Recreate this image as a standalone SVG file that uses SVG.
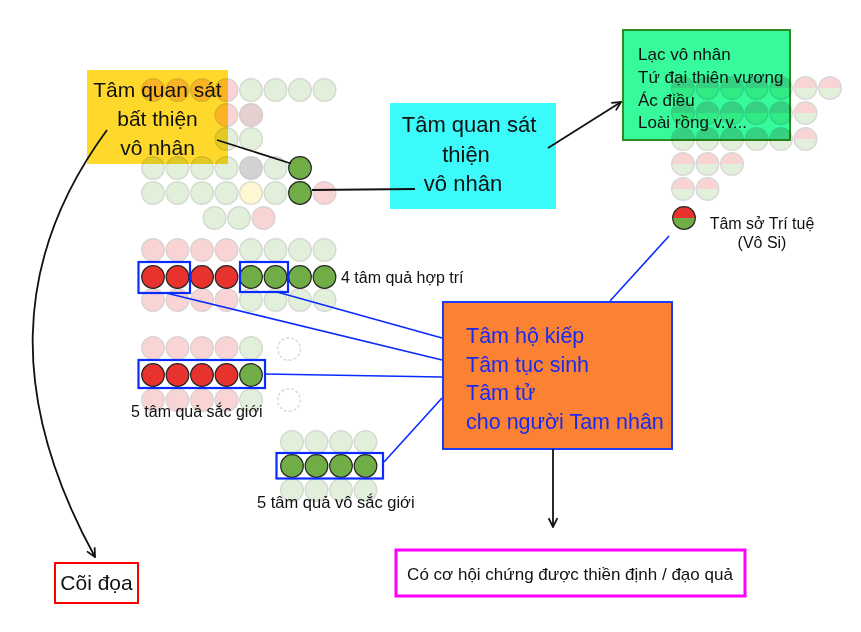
<svg xmlns="http://www.w3.org/2000/svg" xmlns:xlink="http://www.w3.org/1999/xlink" width="861" height="632" viewBox="0 0 861 632">
<style>
  text { font-family: "Liberation Sans", Arial, sans-serif; fill: #111; }
  .fp { fill: #F9D4D4; stroke: #DCD2D2; stroke-width: 1.4; }
  .fg { fill: #E2EFDA; stroke: #D4DAD0; stroke-width: 1.4; }
  .fgr { fill: #D2D2D2; stroke: #CCCCCC; stroke-width: 1.4; }
  .fy { fill: #FFF6D2; stroke: #DCDCCC; stroke-width: 1.4; }
  .fpg { fill: #E5D0D0; stroke: #D6CACA; stroke-width: 1.4; }
  .dash { fill: none; stroke: #D9D9D9; stroke-width: 1.4; stroke-dasharray: 3 2; }
  .r { fill: #E8322E; stroke: #222; stroke-width: 1.2; }
  .g { fill: #70AD47; stroke: #222; stroke-width: 1.2; }
  .sel { fill: none; stroke: #0A2BFF; stroke-width: 2.2; }
  .blk { fill: none; stroke: #111; stroke-width: 1.8; }
  .blu { fill: none; stroke: #0A2BFF; stroke-width: 1.6; }
  .mul { mix-blend-mode: multiply; }
  .ot { fill: #1A2BF0; }
</style>
<defs>
  <marker id="arr" viewBox="0 0 10 10" refX="9" refY="5" markerWidth="11" markerHeight="11" orient="auto" markerUnits="userSpaceOnUse">
    <path d="M1,1 L9,5 L1,9" fill="none" stroke="#111" stroke-width="1.6"/>
  </marker>
  <g id="split">
    <path d="M-11.3,0 A11.3,11.3 0 0 1 11.3,0 Z" fill="#F9D4D4"/>
    <path d="M-11.3,0 A11.3,11.3 0 0 0 11.3,0 Z" fill="#E2EFDA"/>
    <circle r="11.3" fill="none" stroke="#D8D8D8" stroke-width="1.4"/>
  </g>
  <g id="tritue">
    <path d="M-11.3,0 A11.3,11.3 0 0 1 11.3,0 Z" fill="#E8322E"/>
    <path d="M-11.3,0 A11.3,11.3 0 0 0 11.3,0 Z" fill="#70AD47"/>
    <circle r="11.3" fill="none" stroke="#222" stroke-width="1.2"/>
  </g>
</defs>
<rect width="861" height="632" fill="#FFFFFF"/>

<!-- top-left circle grid -->
<g id="grid-top-left">
  <circle class="fp" cx="153" cy="90" r="11.3"/>
  <circle class="fp" cx="177.5" cy="90" r="11.3"/>
  <circle class="fp" cx="202" cy="90" r="11.3"/>
  <circle class="fp" cx="226.5" cy="90" r="11.3"/>
  <circle class="fg" cx="251" cy="90" r="11.3"/>
  <circle class="fg" cx="275.5" cy="90" r="11.3"/>
  <circle class="fg" cx="300" cy="90" r="11.3"/>
  <circle class="fg" cx="324.5" cy="90" r="11.3"/>
  <circle class="fp" cx="226.5" cy="115" r="11.3"/>
  <circle class="fpg" cx="251" cy="115" r="11.3"/>
  <circle class="fg" cx="226.5" cy="139" r="11.3"/>
  <circle class="fg" cx="251" cy="139" r="11.3"/>
  <circle class="fg" cx="153" cy="168" r="11.3"/>
  <circle class="fg" cx="177.5" cy="168" r="11.3"/>
  <circle class="fg" cx="202" cy="168" r="11.3"/>
  <circle class="fg" cx="226.5" cy="168" r="11.3"/>
  <circle class="fgr" cx="251" cy="168" r="11.3"/>
  <circle class="fg" cx="275.5" cy="168" r="11.3"/>
  <circle class="fg" cx="153" cy="193" r="11.3"/>
  <circle class="fg" cx="177.5" cy="193" r="11.3"/>
  <circle class="fg" cx="202" cy="193" r="11.3"/>
  <circle class="fg" cx="226.5" cy="193" r="11.3"/>
  <circle class="fy" cx="251" cy="193" r="11.3"/>
  <circle class="fg" cx="275.5" cy="193" r="11.3"/>
  <circle class="fp" cx="324.5" cy="193" r="11.3"/>
  <circle class="fg" cx="214.5" cy="218" r="11.3"/>
  <circle class="fg" cx="239" cy="218" r="11.3"/>
  <circle class="fp" cx="263.5" cy="218" r="11.3"/>
</g>
<g id="green-circle-1"><circle class="g" cx="300" cy="168" r="11.3"/></g>
<g id="green-circle-2"><circle class="g" cx="300" cy="193" r="11.3"/></g>

<!-- top-right split circles -->
<g id="grid-top-right">
  <use xlink:href="#split" x="683" y="88"/><use xlink:href="#split" x="707.5" y="88"/><use xlink:href="#split" x="732" y="88"/><use xlink:href="#split" x="756.5" y="88"/><use xlink:href="#split" x="781" y="88"/><use xlink:href="#split" x="805.5" y="88"/><use xlink:href="#split" x="830" y="88"/>
  <use xlink:href="#split" x="683" y="113"/><use xlink:href="#split" x="707.5" y="113"/><use xlink:href="#split" x="732" y="113"/><use xlink:href="#split" x="756.5" y="113"/><use xlink:href="#split" x="781" y="113"/><use xlink:href="#split" x="805.5" y="113"/>
  <use xlink:href="#split" x="683" y="139"/><use xlink:href="#split" x="707.5" y="139"/><use xlink:href="#split" x="732" y="139"/><use xlink:href="#split" x="756.5" y="139"/><use xlink:href="#split" x="781" y="139"/><use xlink:href="#split" x="805.5" y="139"/>
  <use xlink:href="#split" x="683" y="164"/><use xlink:href="#split" x="707.5" y="164"/><use xlink:href="#split" x="732" y="164"/>
  <use xlink:href="#split" x="683" y="189"/><use xlink:href="#split" x="707.5" y="189"/>
</g>

<g id="tam-so-tri-tue">
  <use xlink:href="#tritue" x="684" y="218"/>
  <text x="762" y="229" font-size="16" text-anchor="middle">Tâm sở Trí tuệ</text>
  <text x="762" y="248" font-size="16" text-anchor="middle">(Vô Si)</text>
</g>

<!-- 4 tâm quả hợp trí -->
<g id="hop-tri">
  <circle class="fp" cx="153" cy="250" r="11.3"/><circle class="fp" cx="177.5" cy="250" r="11.3"/><circle class="fp" cx="202" cy="250" r="11.3"/><circle class="fp" cx="226.5" cy="250" r="11.3"/>
  <circle class="fg" cx="251" cy="250" r="11.3"/><circle class="fg" cx="275.5" cy="250" r="11.3"/><circle class="fg" cx="300" cy="250" r="11.3"/><circle class="fg" cx="324.5" cy="250" r="11.3"/>
  <circle class="fp" cx="153" cy="300" r="11.3"/><circle class="fp" cx="177.5" cy="300" r="11.3"/><circle class="fp" cx="202" cy="300" r="11.3"/><circle class="fp" cx="226.5" cy="300" r="11.3"/>
  <circle class="fg" cx="251" cy="300" r="11.3"/><circle class="fg" cx="275.5" cy="300" r="11.3"/><circle class="fg" cx="300" cy="300" r="11.3"/><circle class="fg" cx="324.5" cy="300" r="11.3"/>
  <circle class="r" cx="153" cy="277" r="11.3"/><circle class="r" cx="177.5" cy="277" r="11.3"/><circle class="r" cx="202" cy="277" r="11.3"/><circle class="r" cx="226.5" cy="277" r="11.3"/>
  <circle class="g" cx="251" cy="277" r="11.3"/><circle class="g" cx="275.5" cy="277" r="11.3"/><circle class="g" cx="300" cy="277" r="11.3"/><circle class="g" cx="324.5" cy="277" r="11.3"/>
  <rect class="sel" x="138.5" y="262" width="51.5" height="31"/>
  <rect class="sel" x="240" y="262" width="48" height="30"/>
  <text x="341" y="283" font-size="16">4 tâm quả hợp trí</text>
</g>

<!-- 5 tâm quả sắc giới -->
<g id="sac-gioi">
  <circle class="fp" cx="153" cy="348" r="11.3"/><circle class="fp" cx="177.5" cy="348" r="11.3"/><circle class="fp" cx="202" cy="348" r="11.3"/><circle class="fp" cx="226.5" cy="348" r="11.3"/><circle class="fg" cx="251" cy="348" r="11.3"/>
  <circle class="fp" cx="153" cy="400" r="11.3"/><circle class="fp" cx="177.5" cy="400" r="11.3"/><circle class="fp" cx="202" cy="400" r="11.3"/><circle class="fp" cx="226.5" cy="400" r="11.3"/><circle class="fg" cx="251" cy="400" r="11.3"/>
  <circle class="dash" cx="289" cy="349" r="11.3"/>
  <circle class="dash" cx="289" cy="400" r="11.3"/>
  <circle class="r" cx="153" cy="375" r="11.3"/><circle class="r" cx="177.5" cy="375" r="11.3"/><circle class="r" cx="202" cy="375" r="11.3"/><circle class="r" cx="226.5" cy="375" r="11.3"/><circle class="g" cx="251" cy="375" r="11.3"/>
  <rect class="sel" x="138.5" y="360" width="126.5" height="28"/>
  <text x="131" y="417" font-size="16">5 tâm quả sắc giới</text>
</g>

<!-- 5 tâm quả vô sắc giới -->
<g id="vo-sac-gioi">
  <circle class="fg" cx="292" cy="442" r="11.3"/><circle class="fg" cx="316.5" cy="442" r="11.3"/><circle class="fg" cx="341" cy="442" r="11.3"/><circle class="fg" cx="365.5" cy="442" r="11.3"/>
  <circle class="fg" cx="292" cy="490" r="11.3"/><circle class="fg" cx="316.5" cy="490" r="11.3"/><circle class="fg" cx="341" cy="490" r="11.3"/><circle class="fg" cx="365.5" cy="490" r="11.3"/>
  <circle class="g" cx="292" cy="466" r="11.3"/><circle class="g" cx="316.5" cy="466" r="11.3"/><circle class="g" cx="341" cy="466" r="11.3"/><circle class="g" cx="365.5" cy="466" r="11.3"/>
  <rect class="sel" x="276.5" y="453" width="106.5" height="25.5"/>
  <text x="257" y="508" font-size="16.5">5 tâm quả vô sắc giới</text>
</g>

<!-- boxes -->
<g id="bat-thien">
  <rect class="mul" x="87" y="70" width="141" height="94" fill="#FFD82C"/>
  <text x="157.5" y="97" font-size="21" text-anchor="middle">Tâm quan sát</text>
  <text x="157.5" y="126" font-size="21" text-anchor="middle">bất thiện</text>
  <text x="157.5" y="155" font-size="21" text-anchor="middle">vô nhân</text>
</g>

<g id="thien">
  <rect x="390" y="103" width="166" height="106" fill="#3CFAFA"/>
  <text x="469" y="132" font-size="22" text-anchor="middle">Tâm quan sát</text>
  <text x="466" y="162" font-size="22" text-anchor="middle">thiện</text>
  <text x="463" y="191" font-size="22" text-anchor="middle">vô nhân</text>
</g>

<g id="vo-nhan-beings">
  <rect class="mul" x="623" y="30" width="167" height="110" fill="#36FA9B" stroke="#2E8B1E" stroke-width="2"/>
  <text x="638" y="60" font-size="17">Lạc vô nhân</text>
  <text x="638" y="83" font-size="17">Tứ đại thiên vương</text>
  <text x="638" y="106" font-size="17">Ác điều</text>
  <text x="638" y="128" font-size="17">Loài rồng v.v...</text>
</g>

<g id="tam-ho-kiep">
  <rect x="443" y="302" width="229" height="147" fill="#FB8232" stroke="#1C3CF2" stroke-width="2"/>
  <text class="ot" x="466" y="343" font-size="21.5">Tâm hộ kiếp</text>
  <text class="ot" x="466" y="372" font-size="21.5">Tâm tục sinh</text>
  <text class="ot" x="466" y="400" font-size="21.5">Tâm tử</text>
  <text class="ot" x="466" y="429" font-size="21.5">cho người Tam nhân</text>
</g>

<g id="co-hoi">
  <rect x="396" y="550" width="349" height="46" fill="#FFFFFF" stroke="#FF00FF" stroke-width="3"/>
  <text x="570" y="580" font-size="17" text-anchor="middle">Có cơ hội chứng được thiền định / đạo quả</text>
</g>

<g id="coi-doa">
  <rect x="55" y="563" width="83" height="40" fill="#FFFFFF" stroke="#FF0000" stroke-width="2"/>
  <text x="96.5" y="590" font-size="21" text-anchor="middle">Cõi đọa</text>
</g>

<!-- connectors -->
<g id="connectors">
  <line class="blk" x1="217" y1="140" x2="291" y2="163.5"/>
  <line class="blk" x1="312" y1="190" x2="415" y2="189"/>
  <line class="blk" x1="548" y1="148" x2="621" y2="102" marker-end="url(#arr)"/>
  <path class="blk" d="M107,130 C 10,262 10,402 95,557" marker-end="url(#arr)"/>
  <line class="blk" x1="553" y1="449" x2="553" y2="527" marker-end="url(#arr)"/>
  <line class="blu" x1="166" y1="293" x2="442" y2="360"/>
  <line class="blu" x1="277" y1="292" x2="442" y2="338"/>
  <line class="blu" x1="265" y1="374" x2="442" y2="377"/>
  <line class="blu" x1="384" y1="462" x2="442" y2="398"/>
  <line class="blu" x1="610" y1="301" x2="669" y2="236"/>
</g>
</svg>
